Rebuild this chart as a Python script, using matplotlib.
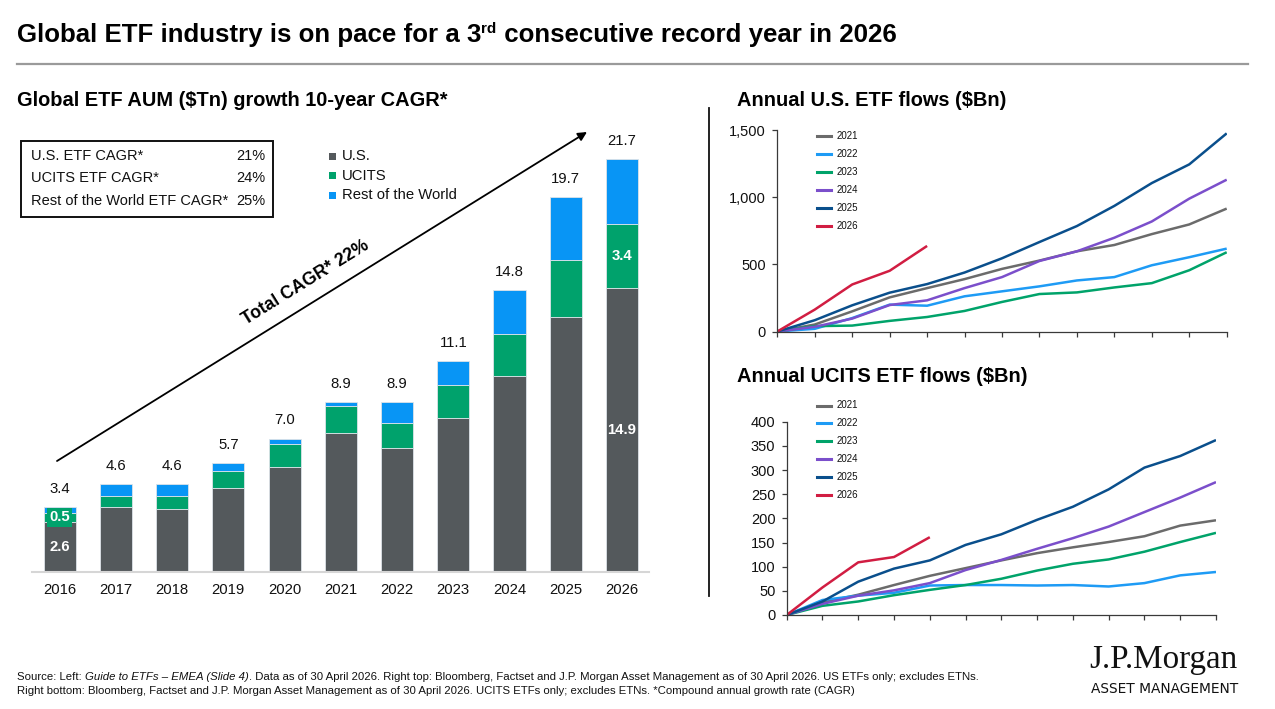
import matplotlib
matplotlib.use('Agg')
import matplotlib.pyplot as plt
from matplotlib.patches import Rectangle, FancyArrowPatch
from matplotlib.lines import Line2D
import numpy as np

plt.rcParams['font.family'] = ['Liberation Sans', 'DejaVu Sans']

# ---------------- data ----------------
years = ['2016', '2017', '2018', '2019', '2020', '2021', '2022', '2023', '2024', '2025', '2026']
us_aum = [2.6, 3.4, 3.3, 4.4, 5.5, 7.3, 6.5, 8.1, 10.3, 13.4, 14.9]
ucits_aum = [0.5, 0.6, 0.7, 0.9, 1.2, 1.4, 1.3, 1.7, 2.2, 3.0, 3.4]
row_aum = [0.3, 0.6, 0.6, 0.4, 0.3, 0.2, 1.1, 1.3, 2.3, 3.3, 3.4]
total_labels = ['3.4', '4.6', '4.6', '5.7', '7.0', '8.9', '8.9', '11.1', '14.8', '19.7', '21.7']
series_names = ['U.S.', 'UCITS', 'Rest of the World']
cagr_names = ['U.S. ETF CAGR*', 'UCITS ETF CAGR*', 'Rest of the World ETF CAGR*']
cagr_values = ['21%', '24%', '25%']
total_cagr = 'Total CAGR* 22%'

months = list(range(13))
flow_years = ['2021', '2022', '2023', '2024', '2025', '2026']
us_2021 = [0, 52, 150, 254, 323, 390, 466, 528, 597, 644, 725, 797, 915]
us_2022 = [0, 20, 100, 200, 192, 262, 299, 336, 380, 405, 493, 553, 617]
us_2023 = [0, 40, 44, 79, 108, 153, 220, 279, 291, 328, 360, 456, 590]
us_2024 = [0, 35, 96, 197, 232, 323, 405, 525, 597, 698, 819, 989, 1130]
us_2025 = [0, 84, 195, 289, 353, 439, 545, 666, 785, 935, 1105, 1244, 1475]
us_2026 = [0, 163, 350, 452, 637]
ucits_2021 = [0, 26, 42, 62, 81, 97, 113, 128, 140, 151, 163, 185, 196]
ucits_2022 = [0, 31, 40, 46, 61, 62, 62, 61, 62, 59, 66, 82, 89]
ucits_2023 = [0, 19, 28, 41, 52, 62, 75, 92, 106, 115, 131, 151, 170]
ucits_2024 = [0, 23, 40, 51, 66, 93, 114, 137, 159, 183, 213, 243, 275]
ucits_2025 = [0, 28, 69, 96, 113, 145, 167, 197, 224, 260, 305, 329, 362]
ucits_2026 = [0, 57, 109, 120, 161]
us_ticks = [0, 500, 1000, 1500]
ucits_ticks = [0, 50, 100, 150, 200, 250, 300, 350, 400]

# ---------------- styles ----------------
C_US = '#54595C'
C_UCITS = '#00A26C'
C_ROW = '#0895F5'
line_colors = ['#6B6B6B', '#1E9BF5', '#00A36A', '#7B4FCB', '#0A4F8C', '#D11D42']

W, H = 1275, 709
fig = plt.figure(figsize=(W / 100, H / 100), dpi=100)


def fx(x):
    return x / W


def fy(y):
    return 1 - y / H


renderer = fig.canvas.get_renderer()


def txt_width(t):
    return t.get_window_extent(renderer=renderer).width


# ---------------- title ----------------
TS = 18.6
t1 = fig.text(fx(17), fy(35), 'Global ETF industry is on pace for a 3', fontsize=TS,
              fontweight='bold', va='center', ha='left')
x1 = fx(17) + txt_width(t1) / W
t2 = fig.text(x1, fy(29), 'rd', fontsize=11, fontweight='bold', va='center', ha='left')
x2 = x1 + txt_width(t2) / W
fig.text(x2, fy(35), ' consecutive record year in 2026', fontsize=TS,
         fontweight='bold', va='center', ha='left')
fig.add_artist(Line2D([fx(17), fx(1248)], [fy(64), fy(64)], transform=fig.transFigure,
                      color='#9a9a9a', lw=1.6))

# subtitles
SS = 14.4
fig.text(fx(17), fy(100), 'Global ETF AUM ($Tn) growth 10-year CAGR*', fontsize=SS,
         fontweight='bold', va='center')
fig.text(fx(737), fy(100), 'Annual U.S. ETF flows ($Bn)', fontsize=SS,
         fontweight='bold', va='center')
fig.text(fx(737), fy(377), 'Annual UCITS ETF flows ($Bn)', fontsize=SS,
         fontweight='bold', va='center')

# ---------------- left stacked bars ----------------
base_y = 571.5
px_per_unit = (571.5 - 159.3) / 21.7
ymax = 24
ax = fig.add_axes([fx(32), fy(base_y), (649 - 32) / W, ymax * px_per_unit / H])
x = np.arange(len(years))
us_a = np.array(us_aum)
uc_a = np.array(ucits_aum)
rw_a = np.array(row_aum)
bw = 0.57
ec = '#dde3e8'
ax.bar(x, us_a, width=bw, color=C_US, edgecolor=ec, lw=0.6)
ax.bar(x, uc_a, width=bw, bottom=us_a, color=C_UCITS, edgecolor=ec, lw=0.6)
ax.bar(x, rw_a, width=bw, bottom=us_a + uc_a, color=C_ROW, edgecolor=ec, lw=0.6)
ax.set_xlim(-0.49, 10.48)
ax.set_ylim(0, ymax)
for s in ['left', 'right', 'top']:
    ax.spines[s].set_visible(False)
ax.spines['bottom'].set_color('#d6d6d6')
ax.spines['bottom'].set_linewidth(1.5)
ax.set_yticks([])
ax.set_xticks(x, years)
ax.tick_params(axis='x', length=0, pad=8.5, labelsize=10.7, colors='#111111')

tops = us_a + uc_a + rw_a
for xi, top, lab in zip(x, tops, total_labels):
    ax.annotate(lab, (xi, top), xytext=(0, 8), textcoords='offset points',
                ha='center', va='bottom', fontsize=10.7, color='#111111')

# in-bar labels (first and last years)
for i in [0, len(years) - 1]:
    ax.text(x[i], us_a[i] / 2, f'{us_a[i]:.1f}', ha='center', va='center', color='white',
            fontsize=10.7, fontweight='bold')
    ax.text(x[i], us_a[i] + uc_a[i] / 2, f'{uc_a[i]:.1f}', ha='center', va='center',
            color='white', fontsize=10.7, fontweight='bold',
            bbox=dict(boxstyle='square,pad=0.15', fc=C_UCITS, ec='none') if i == 0 else None)

# arrow + total CAGR
fig.add_artist(FancyArrowPatch((fx(57), fy(461)), (fx(587), fy(132)), transform=fig.transFigure,
                               arrowstyle='-|>', mutation_scale=13, lw=1.3, color='black',
                               shrinkA=0, shrinkB=0))
ang = np.degrees(np.arctan2(461 - 132, 587 - 57))
fig.text(fx(306), fy(283), total_cagr, rotation=ang, rotation_mode='anchor', ha='center',
         va='center', fontsize=12.8, fontweight='bold')

# CAGR box
fig.add_artist(Rectangle((fx(21), fy(217)), 252 / W, 76 / H, transform=fig.transFigure,
                         fill=False, lw=1.4, ec='#111111'))
for i, (n, v) in enumerate(zip(cagr_names, cagr_values)):
    yy = 156 + i * 22.5
    fig.text(fx(31), fy(yy), n, fontsize=10.5, va='center', ha='left', color='#111111')
    fig.text(fx(265), fy(yy), v, fontsize=10.5, va='center', ha='right', color='#111111')

# left legend
for i, (n, c) in enumerate(zip(series_names, [C_US, C_UCITS, C_ROW])):
    yy = 156 + i * 19.7
    fig.add_artist(Rectangle((fx(329), fy(yy + 3.5)), 7 / W, 7 / H, transform=fig.transFigure,
                             fc=c, ec='none'))
    fig.text(fx(342), fy(yy), n, fontsize=10.7, va='center', ha='left', color='#111111')

# separator
fig.add_artist(Line2D([fx(708.5), fx(708.5)], [fy(108), fy(596)], transform=fig.transFigure,
                      color='#111111', lw=1.3))


# ---------------- right line charts ----------------
def line_panel(rect, series, ylim, ticks, tick_labels, legend_y0):
    a = fig.add_axes(rect)
    for data, c in zip(series, line_colors):
        a.plot(months[:len(data)], data, color=c, lw=1.8, solid_capstyle='butt')
    a.set_xlim(0, 12)
    a.set_ylim(*ylim)
    a.set_xticks(months)
    a.set_xticklabels([])
    a.set_yticks(ticks, tick_labels)
    for s in ['right', 'top']:
        a.spines[s].set_visible(False)
    for s in ['left', 'bottom']:
        a.spines[s].set_color('#3a3a3a')
        a.spines[s].set_linewidth(0.9)
    a.tick_params(axis='both', direction='out', length=3.6, width=0.9, color='#3a3a3a')
    a.tick_params(axis='y', labelsize=10.5, pad=4.5, labelcolor='#111111')
    for i, (yr, c) in enumerate(zip(flow_years, line_colors)):
        yy = legend_y0 + i * 17.9
        fig.add_artist(Line2D([fx(817), fx(831)], [fy(yy), fy(yy)], transform=fig.transFigure,
                              color=c, lw=2.2))
        fig.text(fx(836.5), fy(yy), yr, fontsize=7, va='center', ha='left', color='#111111')
    return a


line_panel([fx(777.3), fy(331.5), (1226.7 - 777.3) / W, (331.5 - 130) / H],
           [us_2021, us_2022, us_2023, us_2024, us_2025, us_2026], (0, 1500), us_ticks,
           [f'{t:,}' for t in us_ticks], 136)
line_panel([fx(786.7), fy(615), (1216 - 786.7) / W, (615 - 421.7) / H],
           [ucits_2021, ucits_2022, ucits_2023, ucits_2024, ucits_2025, ucits_2026], (0, 400),
           ucits_ticks, [str(t) for t in ucits_ticks], 405.5)

# ---------------- footer ----------------
fs = 8.2
parts = [('Source: Left: ', 'normal'), ('Guide to ETFs – EMEA (Slide 4)', 'italic'),
         ('. Data as of 30 April 2026. Right top: Bloomberg, Factset and J.P. Morgan Asset Management '
          'as of 30 April 2026. US ETFs only; excludes ETNs.', 'normal')]
xx = fx(17)
for s, st in parts:
    t = fig.text(xx, fy(677), s, fontsize=fs, style=st, va='center', ha='left', color='#111111')
    xx += txt_width(t) / W
fig.text(fx(17), fy(691), 'Right bottom: Bloomberg, Factset and J.P. Morgan Asset Management as of '
         '30 April 2026. UCITS ETFs only; excludes ETNs. *Compound annual growth rate (CAGR)',
         fontsize=fs, va='center', ha='left', color='#111111')

# logo
lg = fig.text(fx(1238), fy(660), 'J.P.Morgan', fontsize=21, family=['Liberation Serif', 'DejaVu Serif'],
              va='center', ha='right', color='#111111')
wlg = txt_width(lg)
if wlg > 0:
    lg.set_fontsize(21 * 148 / wlg)
am = fig.text(fx(1238), fy(689), 'ASSET MANAGEMENT', fontsize=9.5,
              family=['Liberation Sans Narrow', 'DejaVu Sans'], va='center', ha='right', color='#111111')
wam = txt_width(am)
if wam > 0:
    am.set_fontsize(9.5 * 148 / wam)

fig.savefig('out.png', dpi=100)
